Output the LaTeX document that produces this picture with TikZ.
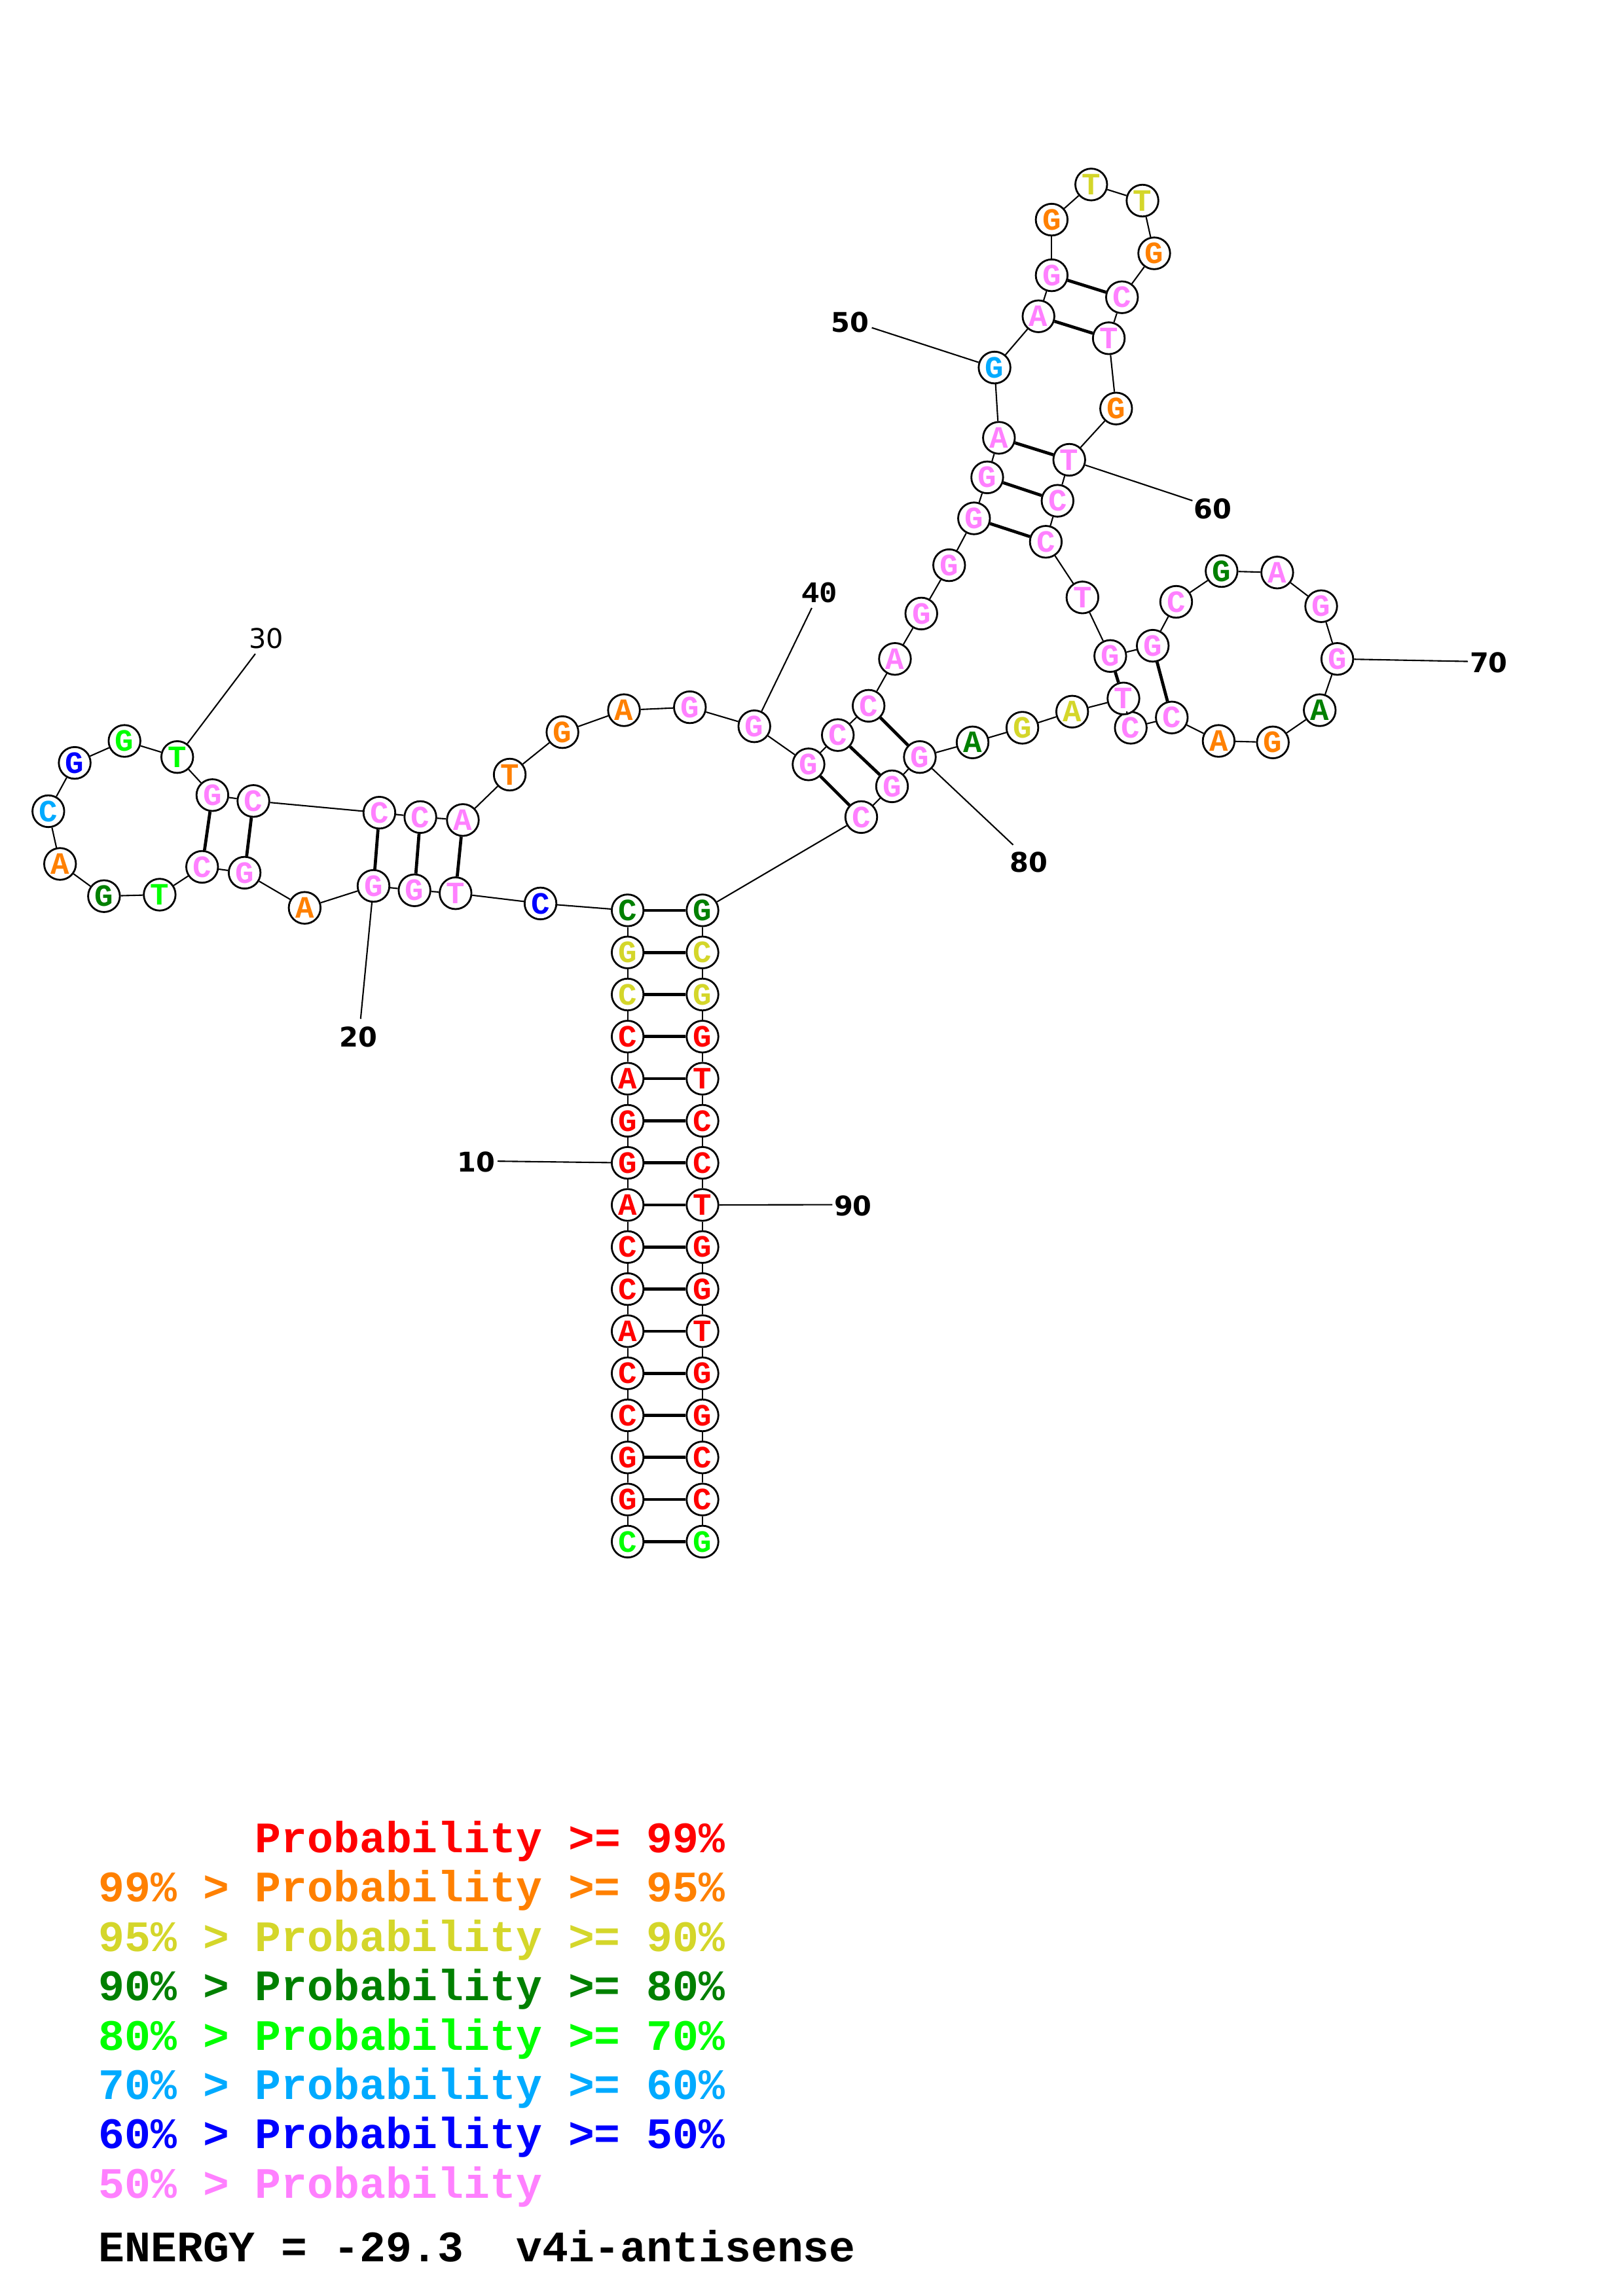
\documentclass[tikz,border=0pt]{standalone}
\usepackage{fontspec}
\newfontfamily\cour{Liberation Mono}
\newfontfamily\dvs{DejaVu Sans}
\definecolor{cR}{HTML}{FF0000}
\definecolor{cO}{HTML}{FF8000}
\definecolor{cY}{HTML}{D4D62A}
\definecolor{cD}{HTML}{008000}
\definecolor{cL}{HTML}{00FF00}
\definecolor{cB}{HTML}{00AAFF}
\definecolor{cN}{HTML}{0000FF}
\definecolor{cP}{HTML}{FF80FF}
\tikzset{
  nt/.style={circle,draw=black,line width=0.8pt,fill=white,minimum size=13.8pt,inner sep=0pt,
    font=\cour\bfseries\fontsize{13.5}{13.5}\selectfont},
  bb/.style={line width=0.6pt,black},
  bp/.style={line width=1.35pt,black},
  tick/.style={line width=0.6pt,black},
  num/.style={inner sep=0pt,font=\dvs\bfseries\fontsize{11.8}{11.8}\selectfont},
  leg/.style={inner sep=0pt,anchor=base west,font=\cour\bfseries\fontsize{18.9}{20}\selectfont}
}
\begin{document}
\begin{tikzpicture}[x=0.022374cm,y=-0.022374cm]
\useasboundingbox (0,0) rectangle (1108,1568);
% stem nucleotides
\foreach \i/\l/\c in {1/C/cL,2/G/cR,3/G/cR,4/C/cR,5/C/cR,6/A/cR,7/C/cR,8/C/cR,9/A/cR,10/G/cR,11/G/cR,12/A/cR,13/C/cR,14/C/cY,15/G/cY,16/C/cD}
  \node[nt,text=\c] (n\i) at (428.5,{621.7+28.74*(16-\i)}) {\l};
\foreach \i/\l/\c in {83/G/cD,84/C/cY,85/G/cY,86/G/cR,87/T/cR,88/C/cR,89/C/cR,90/T/cR,91/G/cR,92/G/cR,93/T/cR,94/G/cR,95/G/cR,96/C/cR,97/C/cR,98/G/cL}
  \node[nt,text=\c] (n\i) at (479.6,{621.7+28.74*(\i-83)}) {\l};
% other nucleotides
\foreach \i/\x/\y/\l/\c in {
 17/369/617/C/cN, 18/311/610/T/cP, 19/283/608/G/cP, 20/255/605/G/cP, 21/208/620/A/cO,
 22/167/596/G/cP, 23/138/592/C/cP, 24/109/611/T/cL, 25/71/612/G/cD, 26/41/590/A/cO,
 27/33/554/C/cB, 28/51/521/G/cN, 29/85/506/G/cL, 30/121/517/T/cL, 31/145/543/G/cP,
 32/173/547/C/cP, 33/259/555/C/cP, 34/287/558/C/cP, 35/316/560/A/cP, 36/348/529/T/cO,
 37/384/500/G/cO, 38/426/485/A/cO, 39/471/483/G/cP, 40/515/496/G/cP, 41/552/522/G/cP,
 42/572/502/C/cP, 43/593/482/C/cP, 44/611/450/A/cP, 45/629/419/G/cP, 46/648/386/G/cP,
 47/665/354/G/cP, 48/674/326/G/cP, 49/682/299/A/cP, 50/679/251/G/cB, 51/709/216/A/cP,
 52/718/188/G/cP, 53/718/150/G/cO, 54/745/126/T/cY, 55/780/137/T/cY, 56/788/173/G/cO,
 57/766/203/C/cP, 58/757/231/T/cP, 59/762/279/G/cO, 60/730/314/T/cP, 61/722/342/C/cP,
 62/714/370/C/cP, 63/739/408/T/cP, 64/758/448/G/cP, 65/787/441/G/cP, 66/803/411/C/cP,
 67/834/390/G/cD, 68/872/391/A/cP, 69/902/414/G/cP, 70/913/450/G/cP, 71/901/485/A/cD,
 72/869/507/G/cO, 73/832/506/A/cO, 74/800/490/C/cP, 75/772/497/C/cP, 76/767/477/T/cP,
 77/732/486/A/cY, 78/698/497/G/cY, 79/664/507/A/cD, 80/628/517/G/cP, 81/609/537/G/cP,
 82/588/558/C/cP}
  \node[nt,text=\c] (n\i) at (\x,\y) {\l};
% backbone
\foreach \i [evaluate=\i as \j using int(\i+1)] in {1,...,97}
  \draw[bb] (n\i) -- (n\j);
% base pairs
\foreach \i [evaluate=\i as \j using int(99-\i)] in {1,...,16}
  \draw[bp] (n\i) -- (n\j);
\foreach \a/\b in {18/35,19/34,20/33,22/32,23/31,41/82,42/81,43/80,47/62,48/61,49/60,51/58,52/57,64/76,65/74}
  \draw[bp] (n\a) -- (n\b);
% numbering
\node[num] (t10) at (325,793.7) {10};
\coordinate (c10) at (339.7,793);
\node[num] (t20) at (244.6,708.1) {20};
\coordinate (c20) at (246.2,695.8);
\node[num,font=\dvs\fontsize{11.8}{11.8}\selectfont] (t30) at (181.9,435.9) {30};
\coordinate (c30) at (174.3,446.5);
\node[num,font=\cour\bfseries\fontsize{13}{13}\selectfont] (t40) at (559.4,404.5) {40};
\coordinate (c40) at (554.2,415.2);
\node[num] (t50) at (580.3,220.1) {50};
\coordinate (c50) at (595.2,223.8);
\node[num] (t60) at (828.1,347.6) {60};
\coordinate (c60) at (814.1,341.9);
\node[num] (t70) at (1016.4,452.6) {70};
\coordinate (c70) at (1002.2,451.7);
\node[num] (t80) at (702.2,588.9) {80};
\coordinate (c80) at (691.7,577);
\node[num] (t90) at (582.4,823.6) {90};
\coordinate (c90) at (568.3,822.7);
\foreach \k in {10,20,30,40,50,60,70,80,90}
  \draw[tick] (n\k) -- (c\k);
% legend
\node[leg,text=cR] (g1) at (67,1265.2) {\phantom{99\% > }Probability >= 99\%};
\node[leg,text=cO] (g2) at (67,1298.9) {99\% > Probability >= 95\%};
\node[leg,text=cY] (g3) at (67,1332.6) {95\% > Probability >= 90\%};
\node[leg,text=cD] (g4) at (67,1366.3) {90\% > Probability >= 80\%};
\node[leg,text=cL] (g5) at (67,1400.0) {80\% > Probability >= 70\%};
\node[leg,text=cB] (g6) at (67,1433.7) {70\% > Probability >= 60\%};
\node[leg,text=cN] (g7) at (67,1467.4) {60\% > Probability >= 50\%};
\node[leg,text=cP] (g8) at (67,1501.1) {50\% > Probability};
\node[leg,text=black] (g9) at (67,1544.6) {ENERGY = -29.3~~v4i-antisense};
\end{tikzpicture}
\end{document}
